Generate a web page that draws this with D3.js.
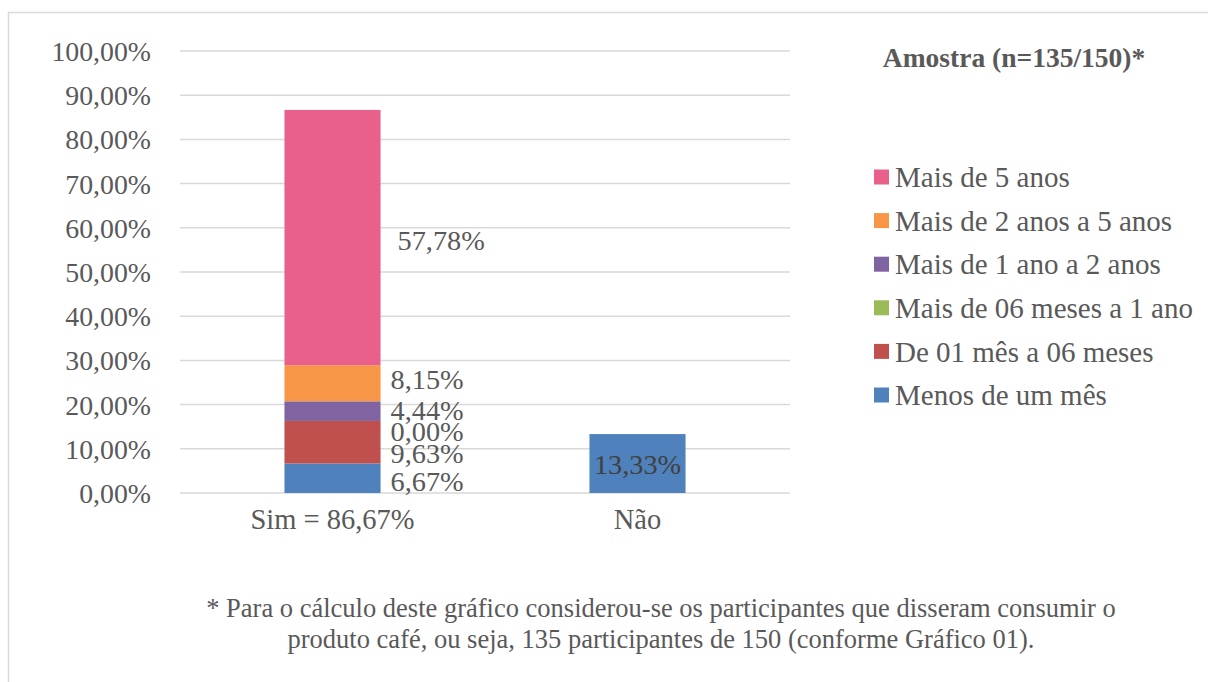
<!DOCTYPE html>
<html><head><meta charset="utf-8">
<script src="https://cdn.jsdelivr.net/npm/d3@7"></script>
<style>body{margin:0;background:#fff}svg{display:block}</style>
</head><body>
<svg id="c" width="1208" height="682"></svg>
<script>
const categories = ["Sim = 86,67%", "Não"];
const seriesNames = ["Menos de um mês", "De 01 mês a 06 meses", "Mais de 06 meses a 1 ano", "Mais de 1 ano a 2 anos", "Mais de 2 anos a 5 anos", "Mais de 5 anos"];
const seriesColors = ["#4f81bd", "#c0504d", "#9bbb59", "#8064a2", "#f79646", "#e9608a"];
const simValues = [6.67, 9.63, 0.00, 4.44, 8.15, 57.78];
const naoValues = [13.33, 0, 0, 0, 0, 0];
const yTicks = [0, 10, 20, 30, 40, 50, 60, 70, 80, 90, 100];
const title = "Amostra (n=135/150)*";
const footnote = ["* Para o cálculo deste gráfico considerou-se os participantes que disseram consumir o",
                  "produto café, ou seja, 135 participantes de 150 (conforme Gráfico 01)."];

const svg = d3.select("#c");
const txt = "#595959", grid = "#d9d9d9";
const FF = '"Liberation Serif"';

svg.append("rect").attr("x", 8.5).attr("y", 12.5).attr("width", 1300).attr("height", 800)
  .attr("fill", "none").attr("stroke", "#d9d9d9").attr("stroke-width", 1.5);

const x = d3.scaleBand().domain(categories).range([180, 790]).paddingInner(0.685).paddingOuter(0.3425);
const y = d3.scaleLinear().domain([0, 100]).range([493, 51]);

const fmt = v => d3.format(".2f")(v).replace(".", ",") + "%";

svg.append("g").selectAll("line").data(yTicks).join("line")
  .attr("x1", 180).attr("x2", 790)
  .attr("y1", d => y(d)).attr("y2", d => y(d))
  .attr("stroke", grid).attr("stroke-width", 1.5);

const yAxis = svg.append("g").attr("transform", "translate(160,0)")
  .call(d3.axisLeft(y).tickValues(yTicks).tickFormat(fmt).tickSize(0).tickPadding(0));
yAxis.select(".domain").remove();
yAxis.selectAll("text").style("font-family", FF).attr("font-size", 27.8).attr("fill", txt).attr("x", -9).attr("dy", "0.34em");

const xAxis = svg.append("g").attr("transform", "translate(0,493)")
  .call(d3.axisBottom(x).tickSize(0).tickPadding(0));
xAxis.select(".domain").remove();
xAxis.selectAll("text").style("font-family", FF).attr("font-size", 28.5).attr("fill", txt).attr("y", 36).attr("dy", "0");

const rows = categories.map((c, i) => {
  const o = {cat: c};
  seriesNames.forEach((s, j) => o[s] = (i === 0 ? simValues : naoValues)[j]);
  return o;
});
const stack = d3.stack().keys(seriesNames)(rows);

const g = svg.append("g");
stack.forEach((layer, j) => {
  g.selectAll(null).data(layer.filter(d => d[1] - d[0] > 0)).join("rect")
    .attr("x", d => x(d.data.cat))
    .attr("width", x.bandwidth())
    .attr("y", d => y(d[1]))
    .attr("height", d => y(d[0]) - y(d[1]))
    .attr("fill", seriesColors[j]);
});

const nudgeY = [3, 11, 10, -1, -4, 2];
const nudgeX = [10, 10, 10, 10, 10, 17];
stack.forEach((layer, j) => {
  const d = layer[0];
  svg.append("text")
    .attr("x", x(categories[0]) + x.bandwidth() + nudgeX[j])
    .attr("y", y((d[0] + d[1]) / 2) + nudgeY[j])
    .attr("dy", "0.35em")
    .style("font-family", FF).attr("font-size", 28.3).attr("fill", txt)
    .text(fmt(simValues[j]));
});
{
  const d = stack[0][1];
  svg.append("text")
    .attr("x", x(categories[1]) + x.bandwidth() / 2)
    .attr("y", y((d[0] + d[1]) / 2) + 1)
    .attr("dy", "0.35em").attr("text-anchor", "middle")
    .style("font-family", FF).attr("font-size", 28.3).attr("fill", "#404040")
    .text(fmt(naoValues[0]));
}

svg.append("text").attr("x", 1014).attr("y", 67).attr("text-anchor", "middle")
  .style("font-family", FF).attr("font-size", 27.5).attr("font-weight", "bold").attr("fill", txt)
  .text(title);

const leg = svg.append("g");
const legOrder = seriesNames.map((s, i) => i).reverse();
legOrder.forEach((idx, k) => {
  const cy = 177 + k * 43.6;
  leg.append("rect").attr("x", 874).attr("y", cy - 7.5).attr("width", 15).attr("height", 15).attr("fill", seriesColors[idx]);
  leg.append("text").attr("x", 895).attr("y", cy).attr("dy", "0.35em")
    .style("font-family", FF).attr("font-size", 29).attr("fill", txt).text(seriesNames[idx]);
});

footnote.forEach((t, i) => {
  svg.append("text").attr("x", 661).attr("y", 617 + i * 31).attr("text-anchor", "middle")
    .style("font-family", FF).attr("font-size", 26.5).attr("fill", txt).text(t);
});
</script>
</body></html>
